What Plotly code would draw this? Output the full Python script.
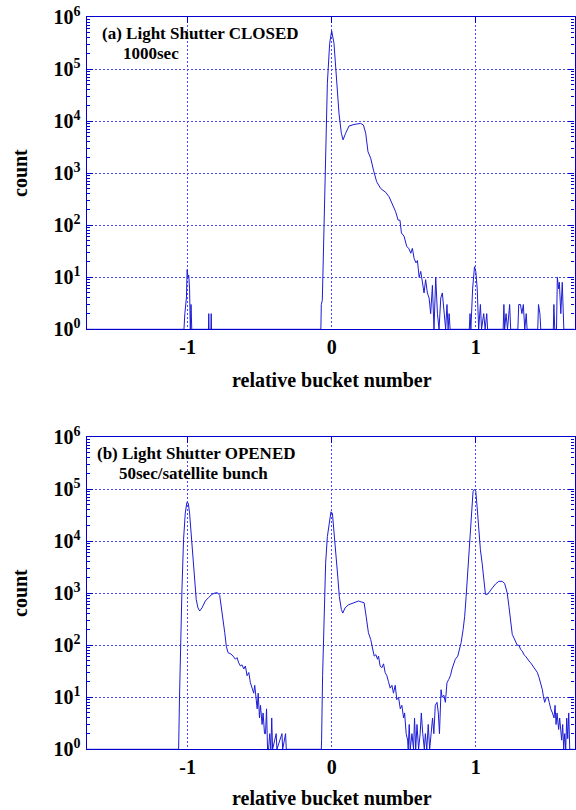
import plotly.graph_objects as go

# ---------------- data ----------------
top_x = [-1.700, -1.025, -1.019, -1.013, -1.008, -1.003, -0.997, -0.992, -0.986, -0.981,
         -0.976, -0.971, -0.855, -0.853, -0.851, -0.838, -0.836, -0.834,
         -0.075, -0.072, -0.065, -0.053, -0.042, -0.030, -0.014, 0.000, 0.016, 0.035,
         0.051, 0.067, 0.079, 0.097, 0.120, 0.155, 0.201, 0.220, 0.236, 0.252, 0.271,
         0.290, 0.312, 0.340, 0.375, 0.398, 0.421, 0.444, 0.461, 0.474, 0.484, 0.502,
         0.521, 0.535, 0.549, 0.560, 0.572, 0.585, 0.595, 0.607, 0.618, 0.630, 0.641,
         0.652, 0.664, 0.676, 0.687, 0.699, 0.710, 0.722, 0.734, 0.745, 0.757, 0.768,
         0.780, 0.791, 0.800, 0.808, 0.815, 0.822, 0.833,
         0.955, 0.960, 0.966, 0.978, 0.991, 1.000, 1.010, 1.020, 1.032, 1.040, 1.055,
         1.065, 1.076, 1.082,
         1.190, 1.195, 1.200, 1.210, 1.220, 1.235, 1.242, 1.292, 1.298, 1.310, 1.320,
         1.330, 1.340, 1.350, 1.356,
         1.430, 1.435, 1.445, 1.451,
         1.538, 1.542, 1.548, 1.560, 1.566, 1.575, 1.580, 1.590, 1.600, 1.611, 1.685]
top_y = [1, 1, 2, 3, 4, 14, 10, 11, 6, 1,
         3, 1, 1, 2, 1, 1, 2, 1,
         1, 3, 3.6, 70, 3800, 54000, 316000, 550000, 316000, 54000,
         14000, 5900, 4400, 5900, 8100, 8700, 9100, 8500, 5900, 2600, 1950,
         1150, 690, 510, 430, 355, 263, 182, 126, 125, 71, 62,
         39, 36, 29, 36, 23, 19, 21, 10, 13, 8, 5,
         9, 5, 4, 2, 7, 1, 10, 2, 1, 4, 5,
         2, 1, 3, 1, 2, 1, 1,
         1, 2, 1, 6, 16, 13, 6, 1, 3, 1, 2,
         1, 2, 1,
         1, 3, 1, 2, 1, 3, 1, 1, 3, 3, 2,
         3, 1, 2, 1,
         1, 3, 2, 1,
         1, 3, 1, 1, 10, 6, 8, 2, 8, 1, 1]

bot_x = [-1.700, -1.062, -1.056, -1.049, -1.039, -1.028, -1.016, -1.005, -0.995, -0.986,
         -0.977, -0.965, -0.954, -0.940, -0.928, -0.916, -0.900, -0.877, -0.854, -0.831,
         -0.807, -0.791, -0.777, -0.766, -0.754, -0.742, -0.731, -0.719, -0.700, -0.684,
         -0.668, -0.657, -0.645, -0.633, -0.622, -0.610, -0.599, -0.587, -0.575, -0.564,
         -0.552, -0.541, -0.534, -0.524, -0.517, -0.510, -0.501, -0.494, -0.483, -0.476,
         -0.466, -0.459, -0.452, -0.445, -0.438, -0.430, -0.422, -0.416, -0.410, -0.385,
         -0.380, -0.345, -0.340, -0.320, -0.315,
         -0.072, -0.070, -0.063, -0.053, -0.042, -0.030, -0.016, -0.005, 0.005, 0.016,
         0.030, 0.042, 0.053, 0.067, 0.077, 0.093, 0.116, 0.139, 0.162, 0.186,
         0.209, 0.225, 0.239, 0.255, 0.271, 0.285, 0.295, 0.307, 0.318, 0.325,
         0.336, 0.348, 0.360, 0.371, 0.383, 0.394, 0.406, 0.418, 0.429, 0.441,
         0.452, 0.464, 0.476, 0.487, 0.499, 0.506, 0.517, 0.527, 0.531, 0.538,
         0.545, 0.557, 0.568, 0.575, 0.583, 0.592, 0.603, 0.614, 0.622, 0.632,
         0.643, 0.650, 0.660, 0.670, 0.680, 0.690, 0.700, 0.709, 0.719, 0.731,
         0.740, 0.748, 0.752, 0.759, 0.766, 0.778, 0.789, 0.800, 0.812, 0.824,
         0.835, 0.847, 0.858, 0.875, 0.886, 0.898, 0.912, 0.923, 0.933, 0.942,
         0.951, 0.963, 0.972, 0.981, 0.991, 1.000, 1.009, 1.021, 1.032, 1.044,
         1.056, 1.067, 1.079, 1.090, 1.114, 1.137, 1.160, 1.183, 1.200, 1.218,
         1.230, 1.241, 1.253, 1.265, 1.276, 1.288, 1.300, 1.311, 1.322, 1.334,
         1.345, 1.357, 1.369, 1.381, 1.392, 1.404, 1.415, 1.427, 1.439, 1.450,
         1.462, 1.469, 1.478, 1.490, 1.500, 1.510, 1.520, 1.532, 1.543, 1.550,
         1.557, 1.564, 1.575, 1.582, 1.589, 1.596, 1.603, 1.610, 1.617, 1.624,
         1.631, 1.638, 1.645, 1.652, 1.665, 1.685]
bot_y = [1, 1, 10, 95, 1170, 10700, 34700, 56000, 54000, 34700,
         16600, 5100, 1820, 760, 525, 457, 525, 710, 830, 955,
         1020, 1020, 910, 560, 316, 174, 95, 72, 68, 62,
         54, 58, 46, 40, 42, 35, 40, 26, 30, 19,
         15, 12, 17, 9, 6, 12, 4, 7, 3, 5,
         2, 2, 6, 1, 1, 2, 1, 4, 1, 2,
         1, 2, 1, 2, 1,
         1, 1.5, 26, 363, 3800, 12300, 25700, 37000, 34700, 16600,
         5100, 2140, 870, 490, 417, 525, 600, 630, 660, 710,
         676, 660, 363, 174, 129, 83, 62, 66, 54, 62,
         40, 37, 44, 30, 26, 20, 15, 17, 12, 17,
         9, 10, 6, 7, 4, 5, 2, 1.5, 1, 3,
         1, 2, 1, 4, 1, 3, 1, 2, 5, 2,
         1, 2, 1, 3, 1, 2, 4, 2, 7, 8,
         5, 2, 7, 14, 10, 11, 8, 19, 22, 26,
         35, 46, 54, 62, 83, 112, 200, 363, 870, 2140,
         5100, 16600, 47000, 91000, 100000, 91000, 47000, 16600, 6900, 3800,
         1820, 955, 955, 1020, 1260, 1510, 1700, 1700, 1550, 1020,
         560, 270, 162, 138, 120, 100, 100, 83, 78, 66,
         62, 54, 50, 46, 42, 37, 33, 30, 24, 19,
         14, 10.5, 8, 10, 10, 8, 6, 5, 4, 7,
         3, 5, 2.4, 4, 2, 1.5, 3, 1, 2, 1,
         4, 1.6, 5, 1, 1, 1]

y_tickvals = [1, 10, 100, 1000, 10000, 100000, 1000000]
y_ticktext = ["10<sup>0</sup>", "10<sup>1</sup>", "10<sup>2</sup>", "10<sup>3</sup>",
              "10<sup>4</sup>", "10<sup>5</sup>", "10<sup>6</sup>"]
x_tickvals = [-1, 0, 1]
x_ticktext = ["-1", "0", "1"]
x_range = [-1.70, 1.685]

panel_a = ["(a) Light Shutter CLOSED", "1000sec"]
panel_b = ["(b) Light Shutter OPENED", "50sec/satellite bunch"]
x_title = "relative bucket number"
y_title = "count"

# ---------------- styling ----------------
W, H = 576, 810
BLUE = "#0000d0"
CURVE = "#1c1cd4"
GRID = "#4a4af0"
FONT = "Liberation Serif"

def px_x(p):
    return p / W

def px_y(p):
    return 1 - p / H

xdom = [px_x(86.7), px_x(574.5)]
ydom_top = [px_y(329.3), px_y(17.3)]
ydom_bot = [px_y(749.3), px_y(437.3)]

fig = go.Figure()
fig.add_trace(go.Scatter(x=top_x, y=top_y, mode="lines", xaxis="x", yaxis="y",
                         line=dict(color=CURVE, width=1), showlegend=False, hoverinfo="skip"))
fig.add_trace(go.Scatter(x=bot_x, y=bot_y, mode="lines", xaxis="x2", yaxis="y2",
                         line=dict(color=CURVE, width=1), showlegend=False, hoverinfo="skip"))
# empty traces so that the top tick axes are drawn
fig.add_trace(go.Scatter(x=[], y=[], xaxis="x3", yaxis="y", showlegend=False, hoverinfo="skip"))
fig.add_trace(go.Scatter(x=[], y=[], xaxis="x4", yaxis="y2", showlegend=False, hoverinfo="skip"))

tickfont = dict(family=FONT, size=20, color="black", weight="bold")

def xaxis_cfg(anchor):
    return dict(domain=xdom, anchor=anchor, range=x_range, tickmode="array",
                tickvals=x_tickvals, ticktext=x_ticktext, ticks="",
                showline=True, mirror=True, linecolor=BLUE, linewidth=1.3,
                showgrid=True, gridcolor=GRID, griddash="2px,2px", gridwidth=1,
                zeroline=False, tickfont=tickfont, ticklabelstandoff=0)

def xtop_cfg(over, anchor):
    return dict(domain=xdom, anchor=anchor, overlaying=over, side="top", range=x_range,
                tickmode="array", tickvals=x_tickvals, ticks="inside", ticklen=6,
                tickcolor=BLUE, tickwidth=1.3, showticklabels=False, showgrid=False,
                showline=False, zeroline=False)

def yaxis_cfg(anchor, dom):
    return dict(domain=dom, anchor=anchor, type="log", range=[0, 6], tickmode="array",
                tickvals=y_tickvals, ticktext=y_ticktext, ticks="inside", ticklen=6,
                tickcolor=BLUE, tickwidth=1.3,
                minor=dict(ticks="inside", ticklen=3, dtick="D1", tickcolor=BLUE,
                           tickwidth=1, showgrid=False),
                showline=True, mirror="ticks", linecolor=BLUE, linewidth=1.3,
                showgrid=True, gridcolor=GRID, griddash="2px,2px", gridwidth=1,
                zeroline=False, tickfont=tickfont, ticklabelstandoff=1)

fig.update_layout(
    width=W, height=H,
    margin=dict(l=0, r=0, t=0, b=0, pad=0, autoexpand=False),
    paper_bgcolor="white", plot_bgcolor="white",
    xaxis=xaxis_cfg("y"),
    xaxis2=xaxis_cfg("y2"),
    xaxis3=xtop_cfg("x", "y"),
    xaxis4=xtop_cfg("x2", "y2"),
    yaxis=yaxis_cfg("x", ydom_top),
    yaxis2=yaxis_cfg("x2", ydom_bot),
)

ann_font = dict(family=FONT, size=17, color="black")
title_font = dict(family=FONT, size=20, color="black")

def ann(text, x, y, font, xanchor="left", angle=0):
    fig.add_annotation(text="<b>%s</b>" % text, x=x, y=y, xref="paper", yref="paper",
                       xanchor=xanchor, yanchor="middle", showarrow=False, font=font,
                       textangle=angle, borderpad=0)

ann(panel_a[0], px_x(101), px_y(34), ann_font)
ann(panel_a[1], px_x(122), px_y(54), ann_font)
ann(panel_b[0], px_x(96), px_y(454), ann_font)
ann(panel_b[1], px_x(118), px_y(474), ann_font)
ann(x_title, px_x(332), px_y(380), title_font, xanchor="center")
ann(x_title, px_x(332), px_y(798), title_font, xanchor="center")
ann(y_title, px_x(20), px_y(173), title_font, xanchor="center", angle=-90)
ann(y_title, px_x(20), px_y(593), title_font, xanchor="center", angle=-90)

fig.write_html("out.html", config={"displayModeBar": False},
               post_script="document.body.style.margin='0';document.body.style.overflow='hidden';")
